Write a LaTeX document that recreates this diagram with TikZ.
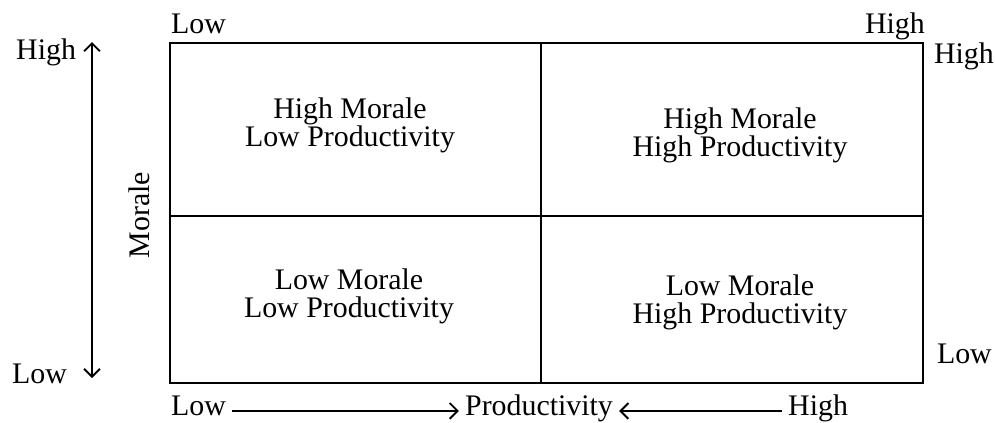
\documentclass[tikz,border=0pt]{standalone}
\usepackage{fontspec}
\setmainfont{Liberation Serif}
\usetikzlibrary{positioning}
\usetikzlibrary{arrows.meta}
\tikzset{quadtext/.style={align=center,
                        font=\fontsize{17}{16}\selectfont,
                        inner sep=0pt
                        },
        axislabel/.style={font=\fontsize{17}{20}\selectfont,
                        text height=1.5ex,
                        text depth=.5ex
                        },
        axisarrow/.style={-{Straight Barb[length=4.5pt,width=9pt,line width=1.1pt]}, line width=0.9pt},
        gridline/.style={line width=1.3pt},
}

\begin{document}
\begin{tikzpicture}
    [x=0.02cm,y=-0.02cm]
    \useasboundingbox (0,0) rectangle (995,423);

    % GRID
    \draw[gridline] (170,43) rectangle (923,383);
    \draw[gridline] (541,43) -- (541,383);
    \draw[gridline] (170,216) -- (923,216);

    \node[quadtext] (hmlp) at (350,125) {High Morale\\Low Productivity};
    \node[quadtext] (hmhp) at (740,135) {High Morale\\High Productivity};
    \node[quadtext] (lmlp) at (349,296) {Low Morale\\Low Productivity};
    \node[quadtext] (lmhp) at (740,302) {Low Morale\\High Productivity};

    % CORNER LABELS
    \node[axislabel, anchor=base west] (topLow) at (165,33) {Low};
    \node[axislabel, anchor=base east] (topHigh) at (931,33) {High};
    \node[axislabel, anchor=base east] (rightHigh) at (1000,63) {High};
    \node[axislabel, anchor=base east] (rightLow) at (998,363) {Low};

    % MORALE AXIS
    \node[axislabel, anchor=base west] (leftHigh) at (10,59) {High};
    \node[axislabel, anchor=base west] (leftLow) at (6,383) {Low};
    \node[axislabel, rotate=90] (morale) at (145,215) {Morale};
    \coordinate (moraleTop) at (92,42);
    \coordinate (moraleBot) at (92,378);
    \draw[axisarrow] (morale.center -| moraleTop) -- (moraleTop);
    \draw[axisarrow] (morale.center -| moraleTop) -- (moraleBot);

    % PRODUCTIVITY AXIS
    \node[axislabel, anchor=base west] (botLow) at (165,415) {Low};
    \node[axislabel, anchor=base] (prod) at (539,415) {Productivity};
    \node[axislabel, anchor=base west] (botHigh) at (782,415) {High};

    \draw[axisarrow] (botLow) -- (prod);
    \draw[axisarrow] (botHigh) -- (prod);

\end{tikzpicture}
\end{document}
